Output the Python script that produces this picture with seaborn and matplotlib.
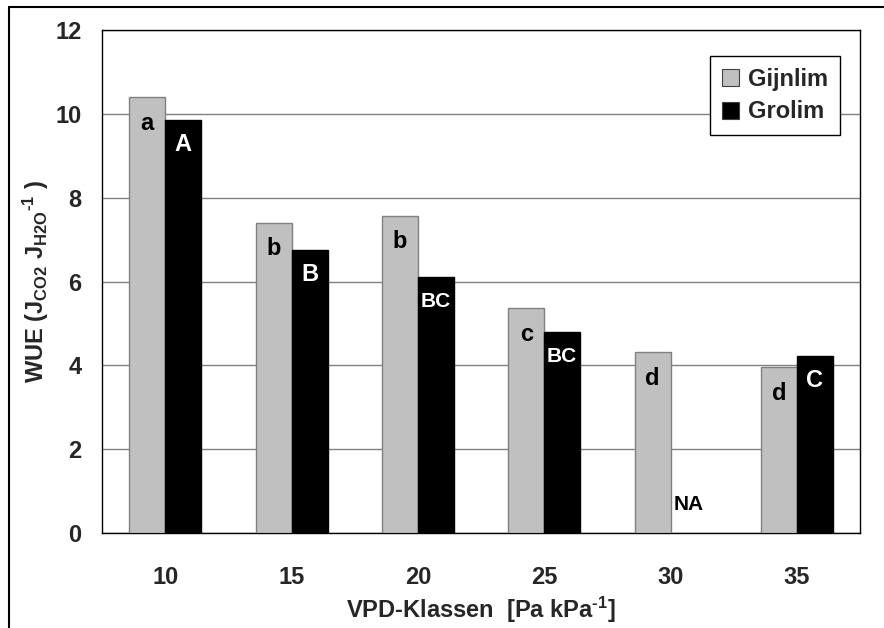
import numpy as np
import pandas as pd
import matplotlib
matplotlib.use("Agg")
import matplotlib.pyplot as plt
from matplotlib.lines import Line2D
import seaborn as sns

categories = ["10", "15", "20", "25", "30", "35"]
gijnlim = [10.40, 7.40, 7.57, 5.36, 4.31, 3.95]
grolim = [9.86, 6.75, 6.11, 4.79, np.nan, 4.22]
labels_gijnlim = ["a", "b", "b", "c", "d", "d"]
labels_grolim = ["A", "B", "BC", "BC", "NA", "C"]
series = ["Gijnlim", "Grolim"]
yticks = [0, 2, 4, 6, 8, 10, 12]

sns.set_style("white")
plt.rcParams["font.family"] = ["Liberation Sans", "DejaVu Sans"]
plt.rcParams["font.weight"] = "bold"
plt.rcParams["mathtext.fontset"] = "custom"
plt.rcParams["mathtext.rm"] = "Liberation Sans:bold"
plt.rcParams["mathtext.bf"] = "Liberation Sans:bold"
plt.rcParams["mathtext.it"] = "Liberation Sans:bold"

df = pd.DataFrame({
    "VPD": categories * 2,
    "WUE": gijnlim + grolim,
    "Serie": [series[0]] * len(categories) + [series[1]] * len(categories),
})

fig = plt.figure(figsize=(8.84, 6.28), dpi=100)
ax = fig.add_axes([0.1154, 0.1513, 0.9729 - 0.1154, 0.9522 - 0.1513])

sns.barplot(data=df, x="VPD", y="WUE", hue="Serie", order=categories,
            hue_order=series, palette=["#C0C0C0", "#000000"], width=0.57,
            gap=0, saturation=1, ax=ax, legend=True, zorder=3)

edge = {0: "#808080", 1: "#000000"}
for i, cont in enumerate(ax.containers):
    for p in cont:
        p.set_edgecolor(edge[i])
        p.set_linewidth(1.0)
        p.set_zorder(3)

ax.set_ylim(0, 12)
ax.set_xlim(-0.5, len(categories) - 0.5)
ax.set_yticks(yticks)
ax.yaxis.grid(True, color="#808080", linewidth=1, zorder=0)
ax.set_axisbelow(True)
for s in ax.spines.values():
    s.set_color("black")
    s.set_linewidth(1.0)

FS = 17
ax.tick_params(axis="y", which="major", direction="out", length=5.8, width=1,
               color="black", labelsize=FS, pad=9)
ax.set_xticks(range(len(categories)))
ax.set_xticklabels(categories)
ax.set_xticks(np.arange(-0.5, len(categories), 1.0), minor=True)
ax.tick_params(axis="x", which="major", length=0, labelsize=FS, pad=24)
ax.tick_params(axis="x", which="minor", direction="out", length=6, width=1,
               color="black")
for lab in ax.get_xticklabels() + ax.get_yticklabels():
    lab.set_fontweight("bold")

ax.set_xlabel(r"VPD-Klassen  [Pa kPa$^{\text{-1}}$]", fontsize=FS,
              fontweight="bold", labelpad=4)
ax.set_ylabel(r"WUE (J$_{\mathrm{CO2}}$ J$_{\mathrm{H2O}}$$^{\text{-1}}$ )",
              fontsize=FS, fontweight="bold", labelpad=3)

# letters
bw = 0.57 / 2
for i in range(len(categories)):
    xg = i - bw / 2
    xb = i + bw / 2
    ax.text(xg, gijnlim[i] - 0.62, labels_gijnlim[i], ha="center", va="center",
            fontsize=FS, fontweight="bold", color="black", zorder=5)
    if np.isnan(grolim[i]):
        ax.text(xb, 0.69, labels_grolim[i], ha="center", va="center",
                fontsize=15, fontweight="bold", color="black", zorder=5)
    else:
        fs = 15 if len(labels_grolim[i]) > 1 else FS
        ax.text(xb, grolim[i] - 0.58, labels_grolim[i], ha="center", va="center",
                fontsize=fs, fontweight="bold", color="white", zorder=5)

leg = ax.legend(loc="upper right", bbox_to_anchor=(0.973, 0.948), frameon=True,
                fancybox=False, edgecolor="black", framealpha=1,
                prop={"weight": "bold", "size": FS}, handlelength=0.75,
                handleheight=0.75, handletextpad=0.35, borderpad=0.5,
                labelspacing=0.4, borderaxespad=0, title=None)
leg.get_frame().set_linewidth(1.0)
for h in leg.legend_handles:
    h.set_edgecolor("#404040")
    h.set_linewidth(0.8)

# outer frame (left and top)
fig.add_artist(Line2D([8.5 / 884, 8.5 / 884], [0, 1 - 7 / 628], color="black",
                      linewidth=1.5, transform=fig.transFigure))
fig.add_artist(Line2D([8.5 / 884, 1], [1 - 7 / 628, 1 - 7 / 628], color="black",
                      linewidth=1.5, transform=fig.transFigure))

fig.savefig("out.png", dpi=100)
